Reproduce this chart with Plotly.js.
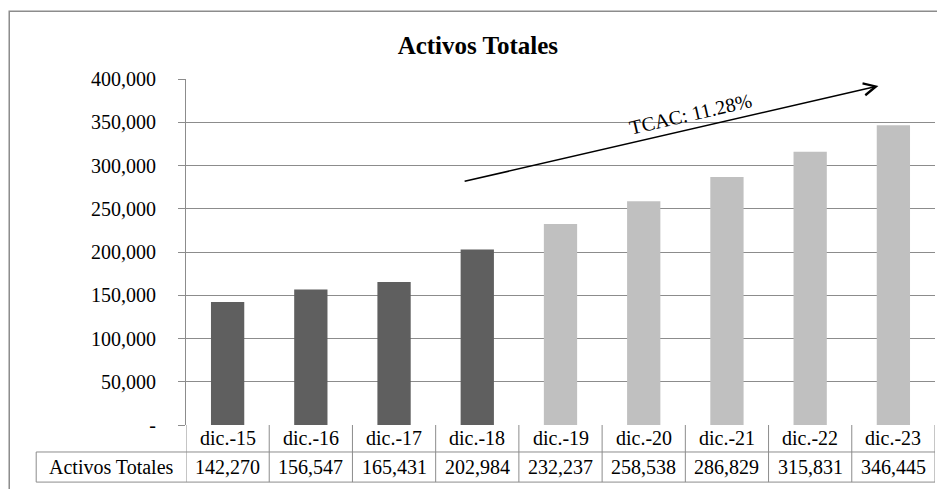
<!DOCTYPE html>
<html>
<head>
<meta charset="utf-8">
<script src="https://cdn.plot.ly/plotly-3.0.1.min.js"></script>
<style>
  html, body {margin: 0; padding: 0; background: #fff;}
  #chart {width: 937px; height: 489px;}
</style>
</head>
<body>
<div id="chart"></div>
<script>
/** Data **/
let categories = ["dic.-15", "dic.-16", "dic.-17", "dic.-18", "dic.-19", "dic.-20", "dic.-21", "dic.-22", "dic.-23"];
let values = [142270, 156547, 165431, 202984, 232237, 258538, 286829, 315831, 346445];
let rowLabel = "Activos Totales";
let nActual = 4; // first four years are real, the rest projected
let yTickVals = [0, 50000, 100000, 150000, 200000, 250000, 300000, 350000, 400000];
let yTickText = ["-", "50,000", "100,000", "150,000", "200,000", "250,000", "300,000", "350,000", "400,000"];
let cagrText = "TCAC: 11.28%";

/** Styles **/
let serif = "Liberation Serif, Times New Roman, serif";
let darkBar = "#5f5f5f";
let lightBar = "#c0c0c0";
let gridCol = "#8c8c8c";

let barColors = values.map(function (v, i) { return i < nActual ? darkBar : lightBar; });
let xIdx = categories.map(function (c, i) { return i; });

let trace = {
    x: xIdx,
    y: values,
    type: "bar",
    width: 0.4,
    marker: {color: barColors},
    hoverinfo: "skip"
};

/* table below the plot (paper y coords) */
let rowTop = 0;
let rowMid = -0.078;
let rowBot = -0.165;
let firstColLeft = -0.2;

let shapes = [];
let annotations = [];

// horizontal lines of the table
shapes.push({type: "line", xref: "paper", yref: "paper", x0: firstColLeft, x1: 1, y0: rowMid, y1: rowMid, line: {color: gridCol, width: 1}});
shapes.push({type: "line", xref: "paper", yref: "paper", x0: firstColLeft, x1: 1, y0: rowBot, y1: rowBot, line: {color: gridCol, width: 1}});
shapes.push({type: "line", xref: "paper", yref: "paper", x0: firstColLeft, x1: firstColLeft, y0: rowMid, y1: rowBot, line: {color: gridCol, width: 1}});
// vertical lines between categories
for (let i = 0; i <= categories.length; i++) {
    shapes.push({type: "line", xref: "x", yref: "paper", x0: i - 0.5, x1: i - 0.5, y0: rowTop, y1: rowBot, line: {color: gridCol, width: 1}});
}
// outer frame of the chart
shapes.push({type: "rect", xref: "paper", yref: "paper", x0: -0.236, x1: 1.01, y0: -0.2, y1: 1.196, line: {color: "#8c8c8c", width: 1.5}});

// category and value cells
categories.forEach(function (c, i) {
    annotations.push({x: i, y: (rowTop + rowMid) / 2, xref: "x", yref: "paper", text: c, showarrow: false,
        font: {family: serif, size: 20, color: "#000"}, xanchor: "center", yanchor: "middle"});
    annotations.push({x: i, y: (rowMid + rowBot) / 2, xref: "x", yref: "paper", text: values[i].toLocaleString("en-US"), showarrow: false,
        font: {family: serif, size: 20, color: "#000"}, xanchor: "center", yanchor: "middle"});
});
annotations.push({x: firstColLeft / 2, y: (rowMid + rowBot) / 2, xref: "paper", yref: "paper", text: rowLabel, showarrow: false,
    font: {family: serif, size: 20, color: "#000"}, xanchor: "center", yanchor: "middle"});

/* CAGR arrow */
annotations.push({x: 7.82, y: 392000, ax: 2.83, ay: 281300, xref: "x", yref: "y", axref: "x", ayref: "y",
    text: "", showarrow: true, arrowhead: 5, arrowsize: 1.6, arrowwidth: 1.5, arrowcolor: "#000"});
annotations.push({x: 5.56, y: 360000, xref: "x", yref: "y", text: cagrText, showarrow: false, textangle: -13,
    font: {family: serif, size: 20, color: "#000"}, xanchor: "center", yanchor: "middle"});

let layout = {
    width: 937,
    height: 489,
    margin: {l: 186, r: 2, t: 79, b: 64},
    paper_bgcolor: "#fff",
    plot_bgcolor: "#fff",
    showlegend: false,
    title: {text: "<b>Activos Totales</b>", x: 0.51, xanchor: "center", y: 1 - 45 / 489, yanchor: "middle",
        font: {family: serif, size: 25, color: "#000"}},
    xaxis: {
        type: "linear",
        range: [-0.5, categories.length - 0.5],
        showticklabels: false,
        showgrid: false,
        zeroline: false,
        showline: false,
        ticks: "",
        fixedrange: true
    },
    yaxis: {
        range: [0, 400000],
        tickvals: yTickVals,
        ticktext: yTickText,
        ticks: "outside",
        ticklen: 7,
        tickcolor: gridCol,
        ticklabelstandoff: 18,
        showline: true,
        linecolor: gridCol,
        linewidth: 1,
        showgrid: true,
        gridcolor: gridCol,
        gridwidth: 1,
        zeroline: false,
        tickfont: {family: serif, size: 20, color: "#000"},
        fixedrange: true
    },
    shapes: shapes,
    annotations: annotations
};

Plotly.newPlot("chart", [trace], layout, {displayModeBar: false, staticPlot: true});
</script>
</body>
</html>
